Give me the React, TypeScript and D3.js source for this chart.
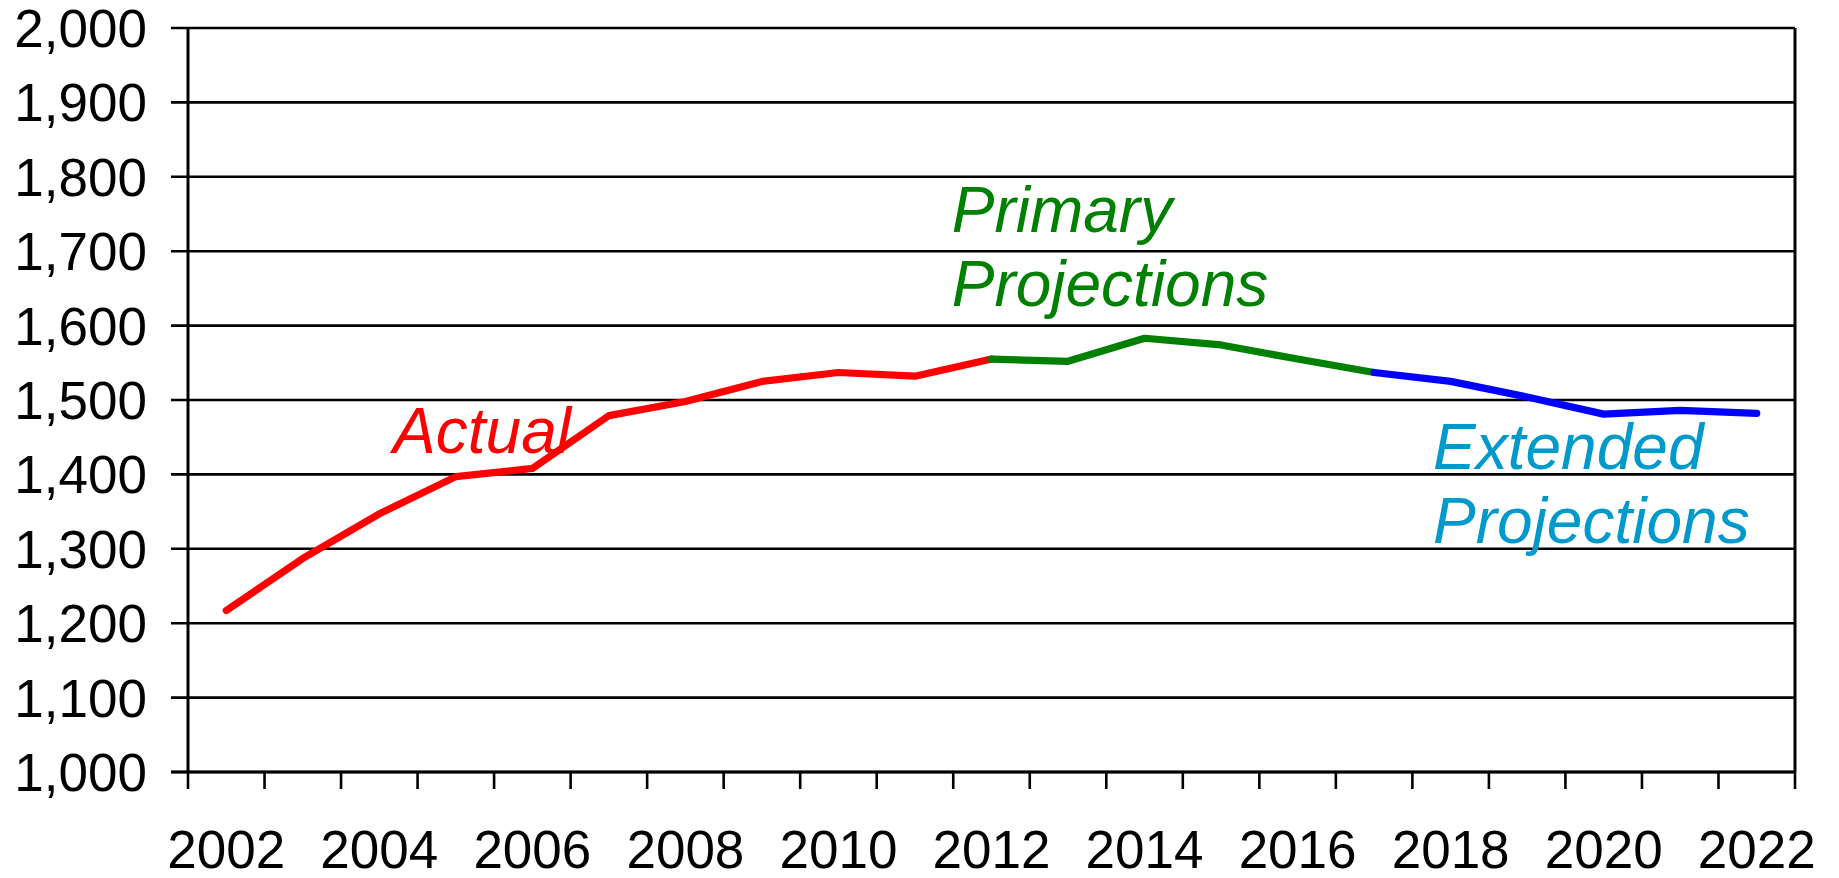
import * as d3 from 'd3';

const years = [
  2002, 2003, 2004, 2005, 2006, 2007, 2008, 2009, 2010, 2011, 2012,
  2013, 2014, 2015, 2016, 2017, 2018, 2019, 2020, 2021, 2022,
];

const values = [
  1217, 1287, 1347, 1397, 1408, 1479, 1498, 1525, 1537, 1532, 1555,
  1552, 1583, 1574, 1555, 1537, 1525, 1504, 1481, 1486, 1482,
];

const yTicks = [1000, 1100, 1200, 1300, 1400, 1500, 1600, 1700, 1800, 1900, 2000];
const xLabels = [2002, 2004, 2006, 2008, 2010, 2012, 2014, 2016, 2018, 2020, 2022];

const segments = [
  { from: 2002, to: 2012, color: '#ff0000' },
  { from: 2012, to: 2017, color: '#008000' },
  { from: 2017, to: 2022, color: '#0000ff' },
];

const annotations = [
  { lines: ['Actual'], year: 2004.18, value: 1429, color: '#ff0000' },
  { lines: ['Primary', 'Projections'], year: 2011.48, value: 1726, color: '#008000' },
  { lines: ['Extended', 'Projections'], year: 2017.77, value: 1407, color: '#0099cc' },
];

const width = 1839;
const height = 878;
const margin = { top: 28, right: 44, bottom: 106, left: 188 };
const font = '"Liberation Sans", Arial, sans-serif';

export default function App() {
  const innerWidth = width - margin.left - margin.right;
  const innerHeight = height - margin.top - margin.bottom;

  const x = d3.scaleBand<number>().domain(years).range([0, innerWidth]).padding(0);
  const y = d3.scaleLinear().domain([1000, 2000]).range([innerHeight, 0]);
  const cx = (year: number) => (x(year) ?? 0) + x.bandwidth() / 2;
  // annotation positions may fall between categories
  const cxFrac = (year: number) => x.bandwidth() * (year - years[0] + 0.5);

  const line = d3
    .line<number>()
    .x((year) => cx(year))
    .y((year) => y(values[years.indexOf(year)]));

  const tickXs = years.map((year) => x(year) ?? 0).concat([innerWidth]);

  return (
    <svg
      width={width}
      height={height}
      style={{ position: 'absolute', left: 0, top: 0, background: '#fff' }}
      fontFamily={font}
    >
      <g transform={`translate(${margin.left},${margin.top})`}>
        {yTicks.map((tick) => (
          <g key={tick}>
            <line x1={-17} x2={innerWidth} y1={y(tick)} y2={y(tick)} stroke="#000" strokeWidth={2.6} />
            <text x={-41} y={y(tick)} dy="0.36em" textAnchor="end" fontSize={53} fill="#000">
              {d3.format(',')(tick)}
            </text>
          </g>
        ))}

        <line x1={0} x2={0} y1={0} y2={innerHeight} stroke="#000" strokeWidth={3} />
        <line x1={innerWidth} x2={innerWidth} y1={0} y2={innerHeight} stroke="#000" strokeWidth={3} />
        <line x1={-17} x2={innerWidth} y1={innerHeight} y2={innerHeight} stroke="#000" strokeWidth={3} />

        {tickXs.map((tx, i) => (
          <line key={i} x1={tx} x2={tx} y1={innerHeight} y2={innerHeight + 17} stroke="#000" strokeWidth={2.6} />
        ))}

        {xLabels.map((year) => (
          <text key={year} x={cx(year)} y={innerHeight + 96} textAnchor="middle" fontSize={53} fill="#000">
            {year}
          </text>
        ))}

        {segments.map((seg) => (
          <path
            key={seg.from}
            d={line(years.filter((yr) => yr >= seg.from && yr <= seg.to)) ?? ''}
            fill="none"
            stroke={seg.color}
            strokeWidth={7.2}
            strokeLinejoin="round"
            strokeLinecap="round"
          />
        ))}

        {annotations.map((note) => (
          <text
            key={note.lines[0]}
            x={cxFrac(note.year)}
            y={y(note.value)}
            fontSize={64}
            fontStyle="italic"
            fill={note.color}
          >
            {note.lines.map((text, i) => (
              <tspan key={text} x={cxFrac(note.year)} dy={i === 0 ? 0 : 74}>
                {text}
              </tspan>
            ))}
          </text>
        ))}
      </g>
    </svg>
  );
}
